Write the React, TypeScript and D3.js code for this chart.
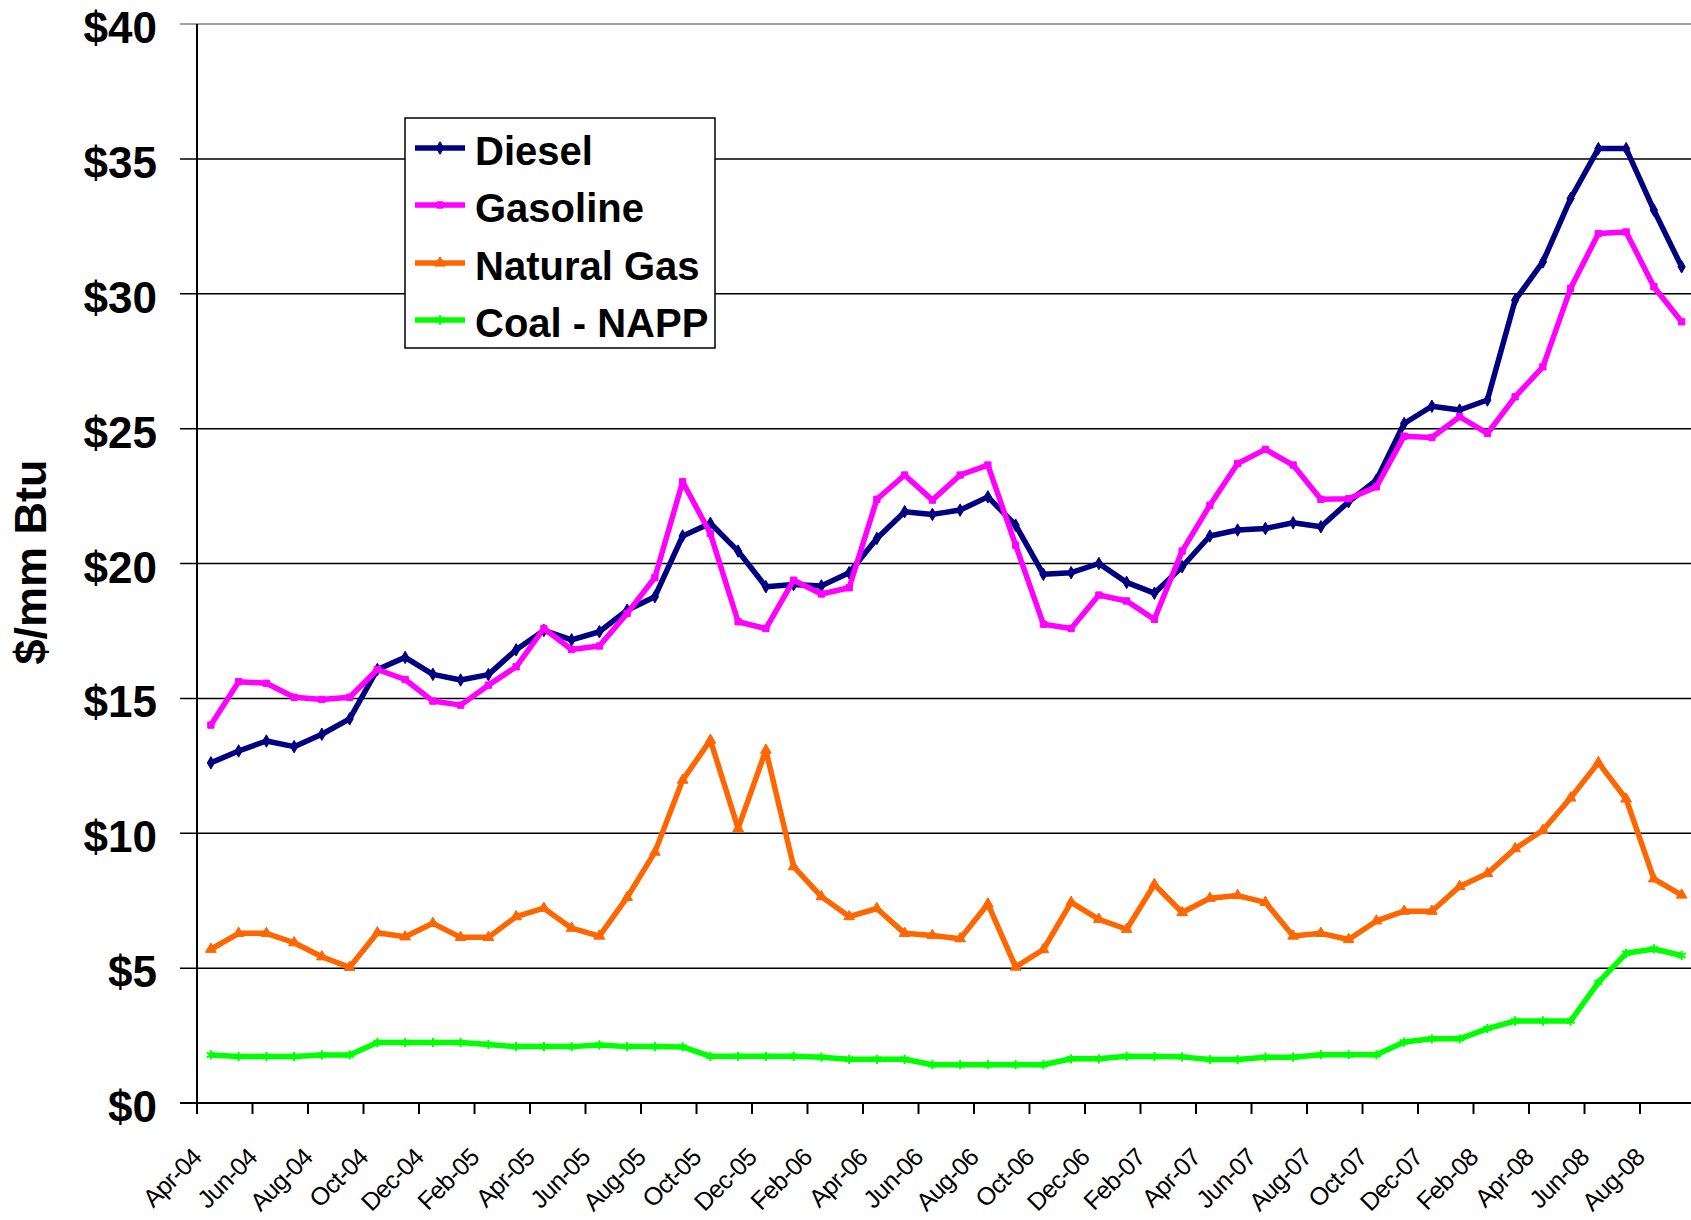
import React from 'react';
import * as d3 from 'd3';

// monthly categories on the x axis
const months = [
  'Apr-04', 'May-04', 'Jun-04', 'Jul-04', 'Aug-04', 'Sep-04', 'Oct-04', 'Nov-04', 'Dec-04',
  'Jan-05', 'Feb-05', 'Mar-05', 'Apr-05', 'May-05', 'Jun-05', 'Jul-05', 'Aug-05', 'Sep-05', 'Oct-05', 'Nov-05', 'Dec-05',
  'Jan-06', 'Feb-06', 'Mar-06', 'Apr-06', 'May-06', 'Jun-06', 'Jul-06', 'Aug-06', 'Sep-06', 'Oct-06', 'Nov-06', 'Dec-06',
  'Jan-07', 'Feb-07', 'Mar-07', 'Apr-07', 'May-07', 'Jun-07', 'Jul-07', 'Aug-07', 'Sep-07', 'Oct-07', 'Nov-07', 'Dec-07',
  'Jan-08', 'Feb-08', 'Mar-08', 'Apr-08', 'May-08', 'Jun-08', 'Jul-08', 'Aug-08', 'Sep-08'
];

const tickLabels = [
  'Apr-04', 'Jun-04', 'Aug-04', 'Oct-04', 'Dec-04', 'Feb-05', 'Apr-05', 'Jun-05', 'Aug-05',
  'Oct-05', 'Dec-05', 'Feb-06', 'Apr-06', 'Jun-06', 'Aug-06', 'Oct-06', 'Dec-06', 'Feb-07',
  'Apr-07', 'Jun-07', 'Aug-07', 'Oct-07', 'Dec-07', 'Feb-08', 'Apr-08', 'Jun-08', 'Aug-08'
];

const yTicks = [0, 5, 10, 15, 20, 25, 30, 35, 40];

// $/mm Btu, one value per month
const diesel = [
  12.61, 13.05, 13.42, 13.21, 13.67, 14.24, 16.07, 16.52, 15.89, 15.68, 15.88, 16.8,
  17.52, 17.17, 17.47, 18.27, 18.77, 21.02, 21.49, 20.46, 19.14, 19.22, 19.17, 19.66,
  20.93, 21.92, 21.82, 21.98, 22.47, 21.42, 19.6, 19.66, 20.0, 19.3, 18.9, 19.88,
  21.02, 21.24, 21.3, 21.51, 21.36, 22.29, 23.09, 25.19, 25.83, 25.69, 26.06, 29.76,
  31.18, 33.53, 35.38, 35.38, 33.1, 31.0
];

const gasoline = [
  14.01, 15.62, 15.56, 15.04, 14.96, 15.04, 16.07, 15.7, 14.9, 14.75, 15.49, 16.17,
  17.59, 16.81, 16.94, 18.15, 19.48, 23.03, 21.11, 17.84, 17.59, 19.38, 18.87, 19.1,
  22.38, 23.28, 22.35, 23.28, 23.65, 20.68, 17.75, 17.59, 18.83, 18.61, 17.93, 20.46,
  22.16, 23.71, 24.23, 23.65, 22.38, 22.4, 22.84, 24.72, 24.67, 25.44, 24.82, 26.18,
  27.29, 30.2, 32.23, 32.29, 30.26, 28.96
];

const naturalGas = [
  5.7, 6.29, 6.29, 5.94, 5.42, 5.03, 6.31, 6.16, 6.66, 6.14, 6.14, 6.91,
  7.22, 6.48, 6.19, 7.62, 9.3, 11.97, 13.45, 10.18, 13.08, 8.76, 7.65, 6.91,
  7.21, 6.29, 6.21, 6.09, 7.38, 5.04, 5.69, 7.44, 6.81, 6.44, 8.1, 7.06,
  7.59, 7.69, 7.44, 6.19, 6.29, 6.06, 6.75, 7.11, 7.11, 8.03, 8.51, 9.43,
  10.11, 11.31, 12.62, 11.27, 8.31, 7.71
];

const coal = [
  1.78, 1.72, 1.72, 1.72, 1.78, 1.78, 2.24, 2.24, 2.24, 2.24, 2.17, 2.09,
  2.09, 2.09, 2.15, 2.09, 2.09, 2.08, 1.73, 1.73, 1.73, 1.73, 1.7, 1.62,
  1.62, 1.62, 1.42, 1.42, 1.42, 1.42, 1.42, 1.64, 1.64, 1.73, 1.72, 1.71,
  1.61, 1.61, 1.7, 1.7, 1.79, 1.79, 1.79, 2.26, 2.38, 2.38, 2.76, 3.04,
  3.04, 3.04, 4.47, 5.55, 5.71, 5.47
];

const W = 1691;
const H = 1220;
const left = 197;
const top = 24;
const bottom = 1103;
const bandW = 27.75;

const series = [
  { name: 'Diesel', values: diesel, color: '#000080', symbol: d3.symbolDiamond, size: 45 },
  { name: 'Gasoline', values: gasoline, color: '#FF00FF', symbol: d3.symbolSquare, size: 40 },
  { name: 'Natural Gas', values: naturalGas, color: '#FF6600', symbol: d3.symbolTriangle, size: 50 },
  { name: 'Coal - NAPP', values: coal, color: '#00FF00', symbol: d3.symbolAsterisk, size: 60 }
];

const font = 'Arial, "Liberation Sans", Helvetica, sans-serif';

export default function App() {
  const x = d3.scaleBand<string>().domain(months).range([left, left + months.length * bandW]);
  const y = d3.scaleLinear().domain([0, 40]).range([bottom, top]);
  const cx = (m: string) => (x(m) as number) + x.bandwidth() / 2;

  const line = d3.line<number>()
    .x((_, i) => cx(months[i]))
    .y(v => y(v));

  const isStroke = (s: any) => s === d3.symbolAsterisk;

  function marker(s: any, px: number, py: number, color: string, key: string) {
    const d = d3.symbol().type(s.symbol).size(s.size)() as string;
    return (
      <path key={key} d={d} transform={`translate(${px},${py})`}
        fill={isStroke(s.symbol) ? 'none' : color}
        stroke={color} strokeWidth={isStroke(s.symbol) ? 2 : 1} />
    );
  }

  const legendX = 405, legendY = 118;
  const rowY = [148, 205, 263, 320];

  return (
    <>
      <style>{`body{margin:0}`}</style>
      <svg width={W} height={H} style={{ display: 'block', background: '#fff' }} fontFamily={font}>
        {/* gridlines + y ticks */}
        {yTicks.map(t => (
          <g key={t}>
            <line x1={left - 17} x2={W} y1={y(t)} y2={y(t)}
              stroke={t === 40 ? '#808080' : '#000'} strokeWidth={t === 0 ? 2 : 1.5} />
            <text x={157} y={y(t) + 19} textAnchor="end" fontSize={44} fontWeight="bold" fill="#000">
              {'$' + t}
            </text>
          </g>
        ))}

        {/* y axis */}
        <line x1={left} x2={left} y1={top} y2={bottom} stroke="#000" strokeWidth={2} />

        {/* x ticks and labels */}
        {tickLabels.map(lab => {
          const tx = x(lab) as number;
          return (
            <g key={lab}>
              <line x1={tx} x2={tx} y1={bottom} y2={bottom + 11} stroke="#000" strokeWidth={2} />
              <text transform={`translate(${tx + 6},${bottom + 56}) rotate(-45)`}
                textAnchor="end" fontSize={25} letterSpacing={-0.8} fill="#000">{lab}</text>
            </g>
          );
        })}

        <text transform={`translate(46,${562}) rotate(-90)`} textAnchor="middle"
          fontSize={45} fontWeight="bold" fill="#000">$/mm Btu</text>

        {/* series */}
        {series.map(s => (
          <g key={s.name}>
            <path d={line(s.values) as string} fill="none" stroke={s.color} strokeWidth={5.5}
              strokeLinejoin="round" />
            {s.values.map((v, i) => marker(s, cx(months[i]), y(v), s.color, s.name + i))}
          </g>
        ))}

        {/* legend */}
        <rect x={legendX} y={legendY} width={310} height={230} fill="#fff" stroke="#000" strokeWidth={1.5} />
        {series.map((s, i) => (
          <g key={s.name}>
            <line x1={415} x2={465} y1={rowY[i]} y2={rowY[i]} stroke={s.color} strokeWidth={5.5} />
            {marker(s, 440, rowY[i], s.color, 'lg' + i)}
            <text x={475} y={rowY[i] + 17} fontSize={40} fontWeight="bold" fill="#000">{s.name}</text>
          </g>
        ))}
      </svg>
    </>
  );
}
